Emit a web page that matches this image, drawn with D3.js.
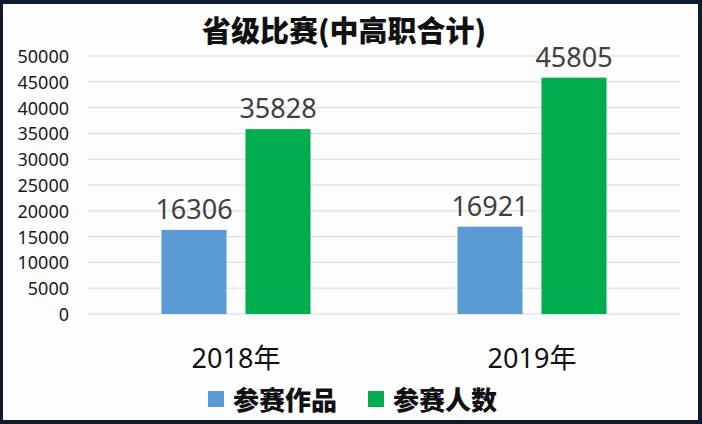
<!DOCTYPE html>
<html><head><meta charset="utf-8">
<script src="https://cdn.jsdelivr.net/npm/d3@7"></script>
<style>html,body{margin:0;padding:0;background:#0f1b2c;}svg{display:block;}</style>
</head><body>
<svg id="c" width="702" height="424"></svg>
<script>
const title = "省级比赛(中高职合计)";
const categories = ["2018年", "2019年"];
const seriesNames = ["参赛作品", "参赛人数"];
const works = [16306, 16921];
const people = [35828, 45805];
const yTicks = [0, 5000, 10000, 15000, 20000, 25000, 30000, 35000, 40000, 45000, 50000];
const colors = ["#5b9bd5", "#00ad4e"];

(function () {
const svg = d3.select("#c");
svg.append("rect").attr("width", 702).attr("height", 424).attr("fill", "#0f1b2c");
svg.append("rect").attr("x", 3).attr("y", 4).attr("width", 695).attr("height", 416).attr("fill", "#fdfdfd");

const pl = 88, pr = 680, pt = 56, pb = 314;
const y = d3.scaleLinear().domain([0, 50000]).range([pb, pt]);
const x0 = d3.scaleBand().domain(categories).range([pl, pr]).padding(0);
const x1 = d3.scaleBand().domain(seriesNames).range([73.5, 222.5]).paddingInner(0.226).paddingOuter(0);

const font = "'Noto Sans', 'Noto Sans CJK SC', sans-serif";
const cjk = "'Noto Sans CJK SC', sans-serif";

svg.append("g").selectAll("line").data(yTicks).join("line")
  .attr("x1", pl).attr("x2", pr)
  .attr("y1", d => y(d)).attr("y2", d => y(d))
  .attr("stroke", "#d9d9d9").attr("stroke-width", 1);

const yAxis = d3.axisLeft(y).tickValues(yTicks).tickSize(0).tickPadding(19).tickFormat(d => String(d));
const ya = svg.append("g").attr("transform", `translate(${pl},0)`).call(yAxis);
ya.select(".domain").remove();
ya.selectAll("text").attr("font-family", font).attr("font-size", 18).attr("fill", "#1a1a1a").attr("dy", "0.36em");

const data = categories.map((c, i) => ({cat: c, vals: [works[i], people[i]]}));
const groups = svg.append("g").selectAll("g").data(data).join("g")
  .attr("transform", d => `translate(${x0(d.cat)},0)`);
groups.selectAll("rect").data(d => d.vals.map((v, j) => ({s: seriesNames[j], v, j}))).join("rect")
  .attr("x", d => x1(d.s)).attr("width", x1.bandwidth())
  .attr("y", d => y(d.v)).attr("height", d => y(0) - y(d.v))
  .attr("fill", d => colors[d.j]);
groups.selectAll("text").data(d => d.vals.map((v, j) => ({s: seriesNames[j], v, j}))).join("text")
  .attr("x", d => x1(d.s) + x1.bandwidth() / 2).attr("y", d => y(d.v) - 11)
  .attr("text-anchor", "middle").attr("font-family", font).attr("font-size", 27)
  .attr("fill", "#404040").text(d => d.v);

const xAxis = d3.axisBottom(x0).tickSize(0).tickPadding(0);
const xa = svg.append("g").attr("transform", `translate(0,${pb})`).call(xAxis);
xa.select(".domain").remove();
xa.selectAll("text").attr("font-family", font).attr("font-size", 27).attr("fill", "#111")
  .attr("dy", 0).attr("y", 54);

svg.append("text").attr("x", 344).attr("y", 42).attr("text-anchor", "middle")
  .attr("font-family", cjk).attr("font-weight", 900).attr("font-size", 29).attr("fill", "#111")
  .text(title);

const legendX = [208, 368];
const lg = svg.append("g").selectAll("g").data(seriesNames).join("g")
  .attr("transform", (d, i) => `translate(${legendX[i]},0)`);
lg.append("rect").attr("x", 0).attr("y", 391).attr("width", 16).attr("height", 16)
  .attr("fill", (d, i) => colors[i]);
lg.append("text").attr("x", 25).attr("y", 410).attr("font-family", cjk).attr("font-weight", 900)
  .attr("font-size", 26).attr("fill", "#111").text(d => d);
})();
</script>
</body></html>
